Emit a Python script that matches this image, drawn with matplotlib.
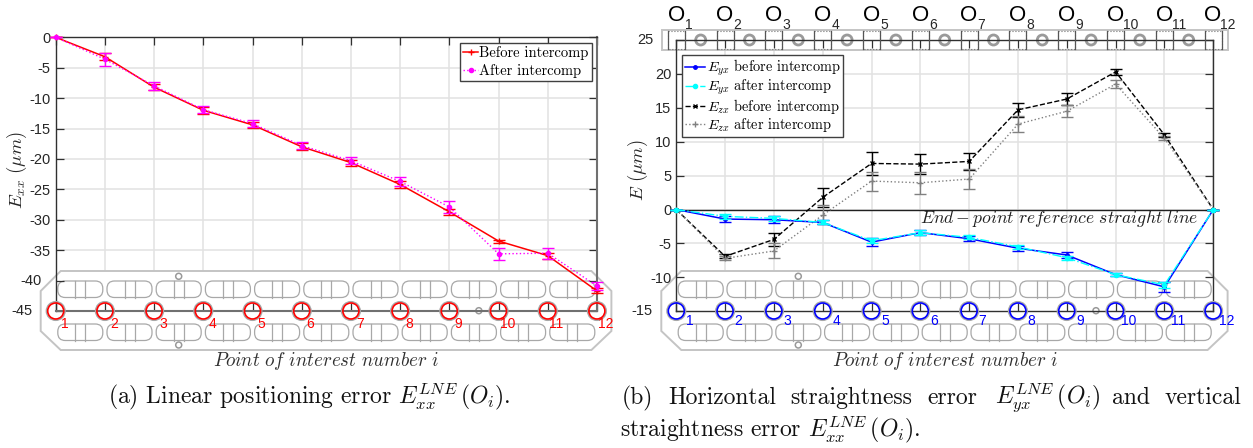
import numpy as np
import matplotlib
matplotlib.use('Agg')
import matplotlib.pyplot as plt
from matplotlib.lines import Line2D
from matplotlib.patches import Circle, FancyBboxPatch, Polygon, Rectangle
from matplotlib.transforms import Affine2D

W, H = 1253, 448

points = np.arange(1, 13)

# panel (a)
exx_before = [0, -3.2, -8.2, -12.0, -14.4, -18.0, -20.6, -24.2, -28.7, -33.5, -35.9, -41.7]
exx_before_err = [0, 0.6, 0.5, 0.6, 0.5, 0.6, 0.5, 0.5, 0.5, 0.25, 0.5, 0.4]
exx_after = [0, -3.6, -8.0, -11.9, -14.2, -17.8, -20.3, -23.7, -27.9, -35.6, -35.5, -40.9]
exx_after_err = [0, 1.1, 0.6, 0.6, 0.6, 0.6, 0.6, 0.8, 1.0, 1.0, 0.9, 0.6]

# panel (b)
eyx_before = [0, -1.4, -1.5, -1.9, -4.8, -3.4, -4.3, -5.7, -6.7, -9.6, -11.4, 0]
eyx_before_err = [0, 0.4, 0.5, 0.3, 0.6, 0.4, 0.4, 0.4, 0.5, 0.2, 0.7, 0]
eyx_after = [0, -1.0, -1.3, -1.9, -4.6, -3.4, -4.1, -5.5, -7.1, -9.6, -11.1, 0]
eyx_after_err = [0, 0.4, 0.4, 0.3, 0.4, 0.4, 0.3, 0.3, 0.3, 0.2, 0.4, 0]
ezx_before = [0, -6.9, -4.4, 1.8, 6.8, 6.7, 7.1, 14.7, 16.3, 20.3, 11.0, 0]
ezx_before_err = [0, 0.3, 0.9, 1.45, 1.7, 1.5, 1.3, 1.05, 0.85, 0.4, 0.3, 0]
ezx_after = [0, -7.2, -6.1, -0.8, 4.2, 3.95, 4.5, 12.6, 14.5, 18.5, 10.5, 0]
ezx_after_err = [0, 0.3, 1.1, 1.4, 1.4, 1.6, 1.5, 1.2, 0.85, 0.6, 0.3, 0]

yticks_a = list(range(-45, 1, 5))
yticks_b = list(range(-15, 26, 5))

plt.rcParams['font.family'] = ['cmr10', 'DejaVu Sans']
plt.rcParams['mathtext.fontset'] = 'cm'
plt.rcParams['axes.unicode_minus'] = False
plt.rcParams['axes.formatter.use_mathtext'] = True

GRID = '#e2e2e2'
PLATE = '#a8a8a8'
AXIS = '#303030'
TICK_FONT = ['Liberation Sans']

fig = plt.figure(figsize=(W / 100, H / 100), dpi=100, facecolor='white')
# pixel coordinates, y going down like in the picture
px = Affine2D().scale(1, -1).translate(0, H)


def make_axes(x1, x12, y_top, y_bot, ylim, yticks, moved):
    pos = [x1 / W, 1 - y_bot / H, (x12 - x1) / W, (y_bot - y_top) / H]
    # grid sits under the plate drawing, the data and the ticks on top of it
    bg = fig.add_axes(pos)
    bg.set_xlim(1, 12)
    bg.set_ylim(*ylim)
    bg.set_xticks(points)
    bg.set_yticks(yticks)
    bg.grid(True, color=GRID, lw=1.1)
    bg.tick_params(length=0, labelleft=False, labelbottom=False)
    for s in bg.spines.values():
        s.set_visible(False)
    ax = fig.add_axes(pos, facecolor='none')
    ax.set_xlim(1, 12)
    ax.set_ylim(*ylim)
    ax.set_xticks(points)
    ax.set_yticks(yticks)
    ax.set_yticklabels(['' if v in moved else str(v) for v in yticks])
    ax.tick_params(direction='in', length=6, width=0.9, color=AXIS, top=True, right=True,
                   labelbottom=False, pad=3.5)
    for lab in ax.get_yticklabels():
        lab.set_family(TICK_FONT)
        lab.set_fontsize(10.5)
        lab.set_color('#262626')
    # these labels were pushed left to clear the stage drawing
    for v, gap in moved.items():
        ax.annotate(str(v), xy=(1, v), xycoords='data', xytext=(-gap, 0), textcoords='offset pixels',
                    ha='right', va='center', family=TICK_FONT, fontsize=10.5, color='#262626',
                    annotation_clip=False, zorder=15)
    for s in ax.spines.values():
        s.set_color(AXIS)
        s.set_linewidth(1.0)
    return bg, ax


def draw_plate(bg, x1, dx):
    add = lambda p: bg.add_patch(p)
    xl, xr = x1 - 15, x1 + 11 * dx + 14.5
    outline = [(xl + 20, 271), (xr - 20, 271), (xr, 291), (xr, 331), (xr - 20, 350),
               (xl + 20, 350), (xl, 331), (xl, 291)]
    add(Polygon(outline, closed=True, fc='white', ec='#c4c4c4', lw=1.4, transform=px,
                clip_on=False, zorder=3))
    for i in range(11):
        cx = x1 + (i + 0.5) * dx
        for y0 in (281, 324):
            add(FancyBboxPatch((cx - 22.5 + 7.5, y0 + 7.5), 30, 1.5, boxstyle='round,pad=7.5',
                               fc='white', ec=PLATE, lw=0.9, transform=px, clip_on=False, zorder=4))
            for off in (-5, 5):
                bg.plot([cx + off, cx + off], [y0, y0 + 16.5], color=PLATE, lw=0.9,
                        transform=px, clip_on=False, zorder=5)
    hole_x = x1 + 2.5 * dx
    for hx, hy in [(hole_x, 276.3), (hole_x, 345), (x1 + 8.6 * dx, 310.7)]:
        add(Circle((hx, hy), 3, fc='white', ec='#999999', lw=1.1, transform=px,
                   clip_on=False, zorder=5))


def draw_points(ax, x1, dx, color, label_dx, label_dy):
    for i, n in enumerate(points):
        cx = x1 + i * dx
        ax.add_patch(Circle((cx, 311), 9.3, fc='none', ec='#a8a8a8', lw=1.1, transform=px,
                            clip_on=False, zorder=6))
        ax.add_patch(Circle((cx, 311), 8, fc='none', ec=color, lw=1.2, transform=px,
                            clip_on=False, zorder=7))
        ax.text(cx + label_dx, 311 + label_dy, str(n), color=color, fontsize=10, family=TICK_FONT,
                ha='center', va='center', transform=px, clip_on=False, zorder=8)


def errline(ax, y, err, color, ls, marker, ms, lw=1.0, z=9):
    ax.errorbar(points, y, yerr=err, color=color, ls=ls, marker=marker, ms=ms, lw=lw,
                elinewidth=1.0, capsize=4.2, capthick=1.0, clip_on=False, zorder=z)


def key(color, ls, marker, ms, lw=1.0):
    return Line2D([], [], color=color, ls=ls, marker=marker, ms=ms, lw=lw)


def side_text(s, x, y):
    fig.text(x / W, 1 - y / H, s, fontsize=13.5, rotation=90, color='#262626', ha='center', va='center')


# panel (a)
bg_a, ax_a = make_axes(55.7, 597, 37.3, 311, (-45, 0), yticks_a, {-40: 13.7, -45: 22.7})
draw_plate(bg_a, 55.7, 49.2)
draw_points(ax_a, 55.7, 49.2, '#ff0000', 8.8, 13)
ax_a.spines['bottom'].set(color='#707070', linewidth=1.5)
ax_a.spines['right'].set(color='#707070', linewidth=1.5)
errline(ax_a, exx_before, exx_before_err, '#ff0000', '-', '+', 4.5, lw=1.1)
errline(ax_a, exx_after, exx_after_err, '#ff00ff', ':', 'o', 3, z=10)
side_text(r'$E_{xx}\ (\mu m)$', 17, 170)
ax_a.text(326, 360.5, r'$Point\ of\ interest\ number\ i$', fontsize=13.7, color='#303030',
          ha='center', va='center', transform=px, clip_on=False)
leg_a = ax_a.legend([key('#ff0000', '-', '+', 4.5, 1.1), key('#ff00ff', ':', 'o', 3)],
                    ['Before intercomp', 'After intercomp'], loc='upper right',
                    bbox_to_anchor=(591.7, H - 43), bbox_transform=Affine2D(),
                    fancybox=False, framealpha=1, edgecolor='#404040', fontsize=10.5,
                    borderaxespad=0, handlelength=1.0, handletextpad=0.1, labelspacing=0.3,
                    borderpad=0.2)
leg_a.set_zorder(20)

# panel (b)
bg_b, ax_b = make_axes(676.3, 1213.3, 40, 311.3, (-15, 25), yticks_b, {25: 23.3, -15: 23.3})
draw_plate(bg_b, 676.3, 48.8)
draw_points(ax_b, 676.3, 48.8, '#0000ff', 13.5, 10)

# top strip with the second view of the stage
bg_b.add_patch(Rectangle((661.5, 30), 566.5, 20, fc='white', ec='#c4c4c4', lw=1.4, transform=px,
                         clip_on=False, zorder=3))
for i, n in enumerate(points):
    cx = 676.3 + i * 48.8
    bg_b.add_patch(Rectangle((cx - 8.5, 31), 17, 18, fc='none', ec='#777777', lw=0.8, ls=':',
                             transform=px, clip_on=False, zorder=4))
    for off in (-8.5, 8.5):
        ax_b.plot([cx + off, cx + off], [31, 49], color='#555555', lw=0.9, transform=px,
                  clip_on=False, zorder=4)
    if n < 12:
        bg_b.add_patch(Circle((cx + 24.4, 40), 5, fc='white', ec='#9a9a9a', lw=2.0, transform=px,
                              clip_on=False, zorder=4))
    ax_b.text(cx, 15, 'O', fontsize=16, family=TICK_FONT, color='black', ha='center', va='center',
              transform=px, clip_on=False)
    ax_b.text(cx + (12.5 if n < 10 else 15), 24.5, str(n), fontsize=10, family=TICK_FONT, color='#262626',
              ha='center', va='center', transform=px, clip_on=False)

ax_b.axhline(0, color='#202020', lw=1.0, zorder=3)
errline(ax_b, ezx_before, ezx_before_err, '#000000', '--', 'x', 3, z=9)
errline(ax_b, ezx_after, ezx_after_err, '#808080', ':', '+', 4, z=9)
errline(ax_b, eyx_before, eyx_before_err, '#0000ff', '-', 'o', 2.5, lw=1.1, z=10)
errline(ax_b, eyx_after, eyx_after_err, '#00ffff', '-.', 'o', 3, z=11)
side_text(r'$E\ (\mu m)$', 638, 170)
ax_b.text(945, 360.5, r'$Point\ of\ interest\ number\ i$', fontsize=13.7, color='#303030',
          ha='center', va='center', transform=px, clip_on=False)
ax_b.text(1059, 218, r'$End-point\ reference\ straight\ line$', fontsize=12.7, color='#202020',
          ha='center', va='center', transform=px, zorder=12, clip_on=False)
leg_b = ax_b.legend([key('#0000ff', '-', 'o', 2.5, 1.1), key('#00ffff', '-.', 'o', 3),
                     key('#000000', '--', 'x', 3), key('#808080', ':', '+', 4)],
                    [r'$E_{yx}$ before intercomp', r'$E_{yx}$ after intercomp',
                     r'$E_{zx}$ before intercomp', r'$E_{zx}$ after intercomp'],
                    loc='upper left', bbox_to_anchor=(681.7, H - 55), bbox_transform=Affine2D(),
                    fancybox=False, framealpha=1, edgecolor='#404040', fontsize=10.3, borderaxespad=0,
                    handlelength=1.4, handletextpad=0.15, labelspacing=-0.02, borderpad=0.2)
leg_b.set_zorder(20)

# captions, line (b) is justified in the source so its words are placed one by one
CAPTION = dict(fontsize=17, color='#111111', va='baseline')
fig.text(108 / W, 1 - 404 / H, r'(a) Linear positioning error $E_{xx}^{LNE}\,(O_i)$.', **CAPTION)
caption_b = [('(b)', 622), ('Horizontal', 668), ('straightness', 790), ('error', 927),
             (r'$E_{yx}^{LNE}\,(O_i)$', 995), ('and', 1112), ('vertical', 1165)]
for word, x in caption_b:
    fig.text(x / W, 1 - 404 / H, word, **CAPTION)
fig.text(620 / W, 1 - 437 / H, r'straightness error $E_{xx}^{LNE}\,(O_i)$.', **CAPTION)

fig.savefig('out.png', dpi=100)
